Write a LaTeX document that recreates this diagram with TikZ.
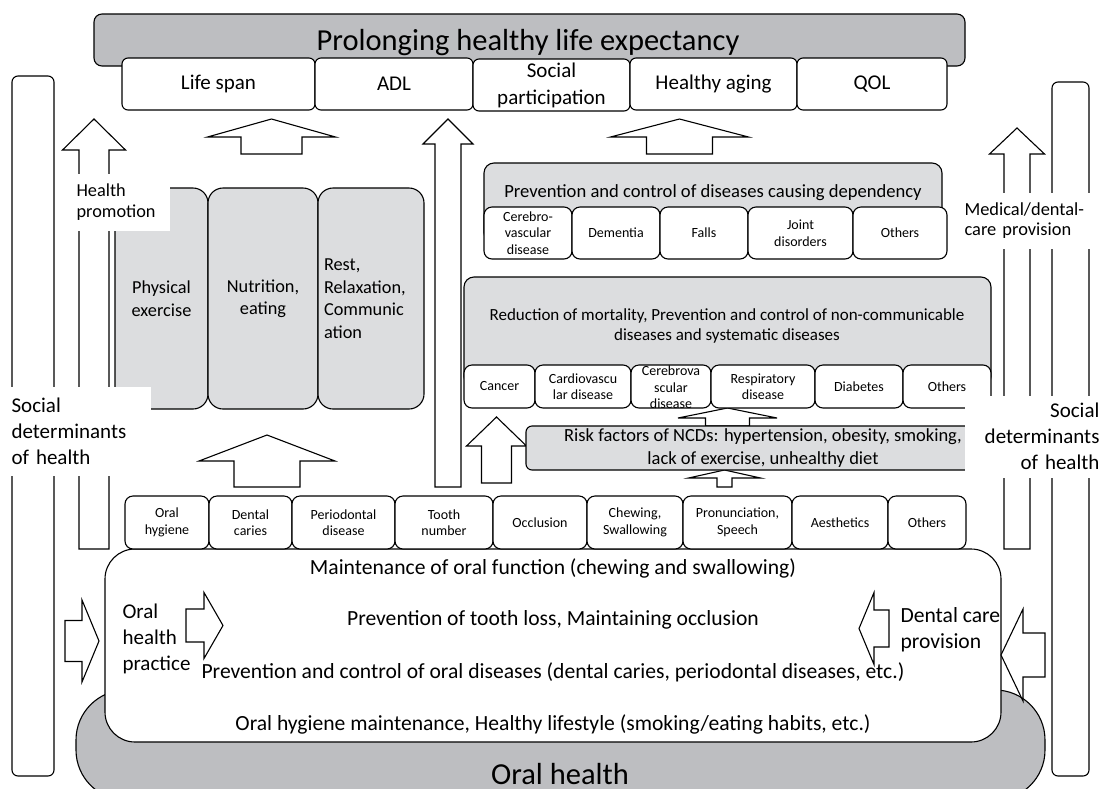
\documentclass[tikz,border=0pt]{standalone}
\usepackage{fontspec}
\setmainfont{Carlito}

\definecolor{headgray}{HTML}{BDBEC1}
\definecolor{boxgray}{HTML}{DCDDDF}

% block arrows: x, tip y, head base y, bottom y, head half width, shaft half width
\newcommand{\upblock}[6]{%
  \draw[blockarrow] (#1,#2) -- (#1+#5,#3) -- (#1+#6,#3) -- (#1+#6,#4)
    -- (#1-#6,#4) -- (#1-#6,#3) -- (#1-#5,#3) -- cycle;}
% tip x, y, head base x, back x, head half height, shaft half height
\newcommand{\sideblock}[6]{%
  \draw[blockarrow] (#1,#2) -- (#3,#2-#5) -- (#3,#2-#6) -- (#4,#2-#6)
    -- (#4,#2+#6) -- (#3,#2+#6) -- (#3,#2+#5) -- cycle;}

\begin{document}
\begin{tikzpicture}[x=1pt, y=-1pt, line width=1.1pt,
  blockarrow/.style={draw, fill=white, line join=miter},
  topbox/.style={draw, fill=white, rounded corners=6pt, inner sep=0pt, align=center,
    minimum height=52pt, font=\fontsize{21}{27}\selectfont},
  lifebox/.style={draw, fill=boxgray, rounded corners=15pt, inner sep=0pt, align=center,
    minimum height=221pt, font=\fontsize{18.3}{22.5}\selectfont},
  graybox/.style={draw, fill=boxgray, rounded corners=10pt, inner sep=0pt},
  subbox/.style={draw, fill=white, rounded corners=8pt, inner sep=0pt, align=center,
    font=\fontsize{14}{16.5}\selectfont},
  whitelab/.style={fill=white, inner sep=0pt, align=left, font=\fontsize{21}{26}\selectfont},
  bigtext/.style={inner sep=0pt, font=\fontsize{21.6}{26}\selectfont}]

\path[use as bounding box] (0,0) rectangle (1101,788);
\clip (0,0) rectangle (1101,788);

% oral health base
\draw[fill=headgray, rounded corners=50pt] (76,690) rectangle (1045,800);
\node[anchor=base, font=\fontsize{30.5}{32}\selectfont] (ohtxt) at (560,784.5) {Oral health};

% side bars
\draw[rounded corners=6pt] (12,76) rectangle (54,776);
\draw[rounded corners=6pt] (1052,82) rectangle (1089,776);

% top
\node[draw, fill=headgray, rounded corners=8pt, minimum width=871pt, minimum height=52pt] (head) at (529.5,40) {};
\node[anchor=base, font=\fontsize{30.5}{33}\selectfont] (headtxt) at (528,50) {Prolonging healthy life expectancy};
\node[topbox, minimum width=193pt] (life) at (218.5,84) {Life span};
\node[topbox, minimum width=158pt] (adl) at (394,84) {ADL};
\node[topbox, minimum width=157pt] (social) at (551.5,85) {Social\\participation};
\node[topbox, minimum width=167pt] (aging) at (713.5,84) {Healthy aging};
\node[topbox, minimum width=150pt] (qol) at (872,84) {QOL};

% arrows
\upblock{94}{119}{150}{549}{31.5}{15}
\upblock{271.5}{119}{137}{154}{64}{30.5}
\upblock{448}{119}{144}{487}{25}{13}
\upblock{679.5}{119}{137}{154}{69}{33}
\upblock{1017}{128}{154}{549}{27.5}{13}
\upblock{267}{435}{461}{487}{68}{33}
\upblock{496.5}{417}{446}{483}{30}{15}
\upblock{727.5}{408}{418}{426}{49.5}{22}
\upblock{724.5}{470}{478}{487}{36}{7.5}

% health promotion
\node[lifebox, minimum width=93pt] (phys) at (161.5,298.5) {Physical\\exercise};
\node[lifebox, minimum width=110pt] (nutr) at (263,298.5) {Nutrition,\\eating};
\node[lifebox, minimum width=106pt, text width=94pt, align=left] (rest) at (371,298.5) {Rest,\\Relaxation,\\Communic\\ation};
\node[whitelab, anchor=north west, minimum width=94pt, minimum height=57pt, text width=92pt,
  inner xsep=1pt, font=\fontsize{18.3}{21}\selectfont] (promo) at (75,173) {Health\\promotion};

% diseases causing dependency
\node[graybox, minimum width=458pt, minimum height=80pt] (dep) at (713,203) {};
\node[anchor=base, font=\fontsize{18.6}{20}\selectfont] (deptxt) at (713,197) {Prevention and control of diseases causing dependency};
\node[subbox, minimum width=88pt, minimum height=52pt] (cvd) at (528,233) {Cerebro-\\vascular\\disease};
\node[subbox, minimum width=88pt, minimum height=52pt] (dem) at (616,233) {Dementia};
\node[subbox, minimum width=88pt, minimum height=52pt] (falls) at (704,233) {Falls};
\node[subbox, minimum width=105pt, minimum height=52pt] (joint) at (800.5,233) {Joint\\disorders};
\node[subbox, minimum width=94pt, minimum height=52pt] (othA) at (900,233) {Others};

% non-communicable diseases
\node[graybox, minimum width=527pt, minimum height=110pt] (ncd) at (727.5,332) {};
\node[align=center, inner sep=0pt, font=\fontsize{17}{20}\selectfont] (ncdtxt) at (727,326)
  {Reduction of mortality, Prevention and control of non-communicable\\diseases and systematic diseases};
\node[subbox, minimum width=71pt, minimum height=43pt] (cancer) at (499.5,386.5) {Cancer};
\node[subbox, minimum width=96pt, minimum height=43pt] (cardio) at (583,386.5) {Cardiovascu\\lar disease};
\node[subbox, minimum width=80pt, minimum height=43pt] (cereb) at (671,386.5) {};
\node[subbox, draw=none, fill=none] (cerebtxt) at (671,387.5) {Cerebrova\\scular\\disease};
\node[subbox, minimum width=104pt, minimum height=43pt] (resp) at (763,386.5) {Respiratory\\disease};
\node[subbox, minimum width=88pt, minimum height=43pt] (diab) at (859,386.5) {Diabetes};
\node[subbox, minimum width=88pt, minimum height=43pt] (othB) at (947,386.5) {Others};

% risk factors
\node[graybox, rounded corners=6pt, minimum width=470pt, minimum height=44pt] (risk) at (761,448) {};
\node[align=center, inner sep=0pt, font=\fontsize{18.5}{23}\selectfont] (risktxt) at (763,448.5)
  {Risk factors of NCDs: hypertension, obesity, smoking,\\lack of exercise, unhealthy diet};

% labels on the side bars
\node[whitelab, anchor=north west, minimum width=144pt, minimum height=89pt, text width=133pt,
  inner xsep=6pt] (sdhL) at (5,386) {Social\\determinants\\of health};
\node[whitelab, anchor=north east, minimum width=135pt, minimum height=82pt, text width=133pt,
  inner xsep=1pt, align=right] (sdhR) at (1101,395) {Social\\determinants\\of health};
\node[whitelab, anchor=north west, minimum width=141pt, minimum height=56pt, text width=137pt,
  inner xsep=4pt, font=\fontsize{18.4}{20}\selectfont] (medical) at (960,192) {Medical/dental-\\care provision};

% oral health
\node[draw, fill=white, rounded corners=30pt, minimum width=896pt, minimum height=193pt] (oral) at (553,645.5) {};
\node[subbox, minimum width=84pt, minimum height=53pt] (ohyg) at (167,522.5) {Oral\\hygiene};
\node[subbox, minimum width=83pt, minimum height=53pt] (caries) at (250.5,522.5) {Dental\\caries};
\node[subbox, minimum width=103pt, minimum height=53pt] (perio) at (343.5,522.5) {Periodontal\\disease};
\node[subbox, minimum width=98pt, minimum height=53pt] (tooth) at (444,522.5) {Tooth\\number};
\node[subbox, minimum width=94pt, minimum height=53pt] (occl) at (540,522.5) {Occlusion};
\node[subbox, minimum width=96pt, minimum height=53pt] (chew) at (635,522.5) {Chewing,\\Swallowing};
\node[subbox, minimum width=109pt, minimum height=53pt] (pron) at (737.5,522.5) {Pronunciation,\\Speech};
\node[subbox, minimum width=96pt, minimum height=53pt] (aesth) at (840,522.5) {Aesthetics};
\node[subbox, minimum width=78pt, minimum height=53pt] (othC) at (927,522.5) {Others};

\node[bigtext] (func) at (553,568) {Maintenance of oral function (chewing and swallowing)};
\node[bigtext] (loss) at (553,620) {Prevention of tooth loss, Maintaining occlusion};
\node[bigtext] (disease) at (553,672) {Prevention and control of oral diseases (dental caries, periodontal diseases, etc.)};
\node[bigtext] (hygiene) at (553,724) {Oral hygiene maintenance, Healthy lifestyle (smoking/eating habits, etc.)};

\sideblock{99}{641}{82}{65}{41}{20.5}
\sideblock{223}{625.5}{204}{186}{33}{16.5}
\sideblock{859}{628.5}{874}{889}{36}{18.5}
\sideblock{1001}{655}{1023}{1045}{46}{22}
\node[bigtext, anchor=west, align=left, font=\fontsize{21}{26}\selectfont] (practice) at (122,639) {Oral\\health\\practice};
\node[bigtext, anchor=west, align=left] (dental) at (900,630) {Dental care\\provision};
\end{tikzpicture}
\end{document}
